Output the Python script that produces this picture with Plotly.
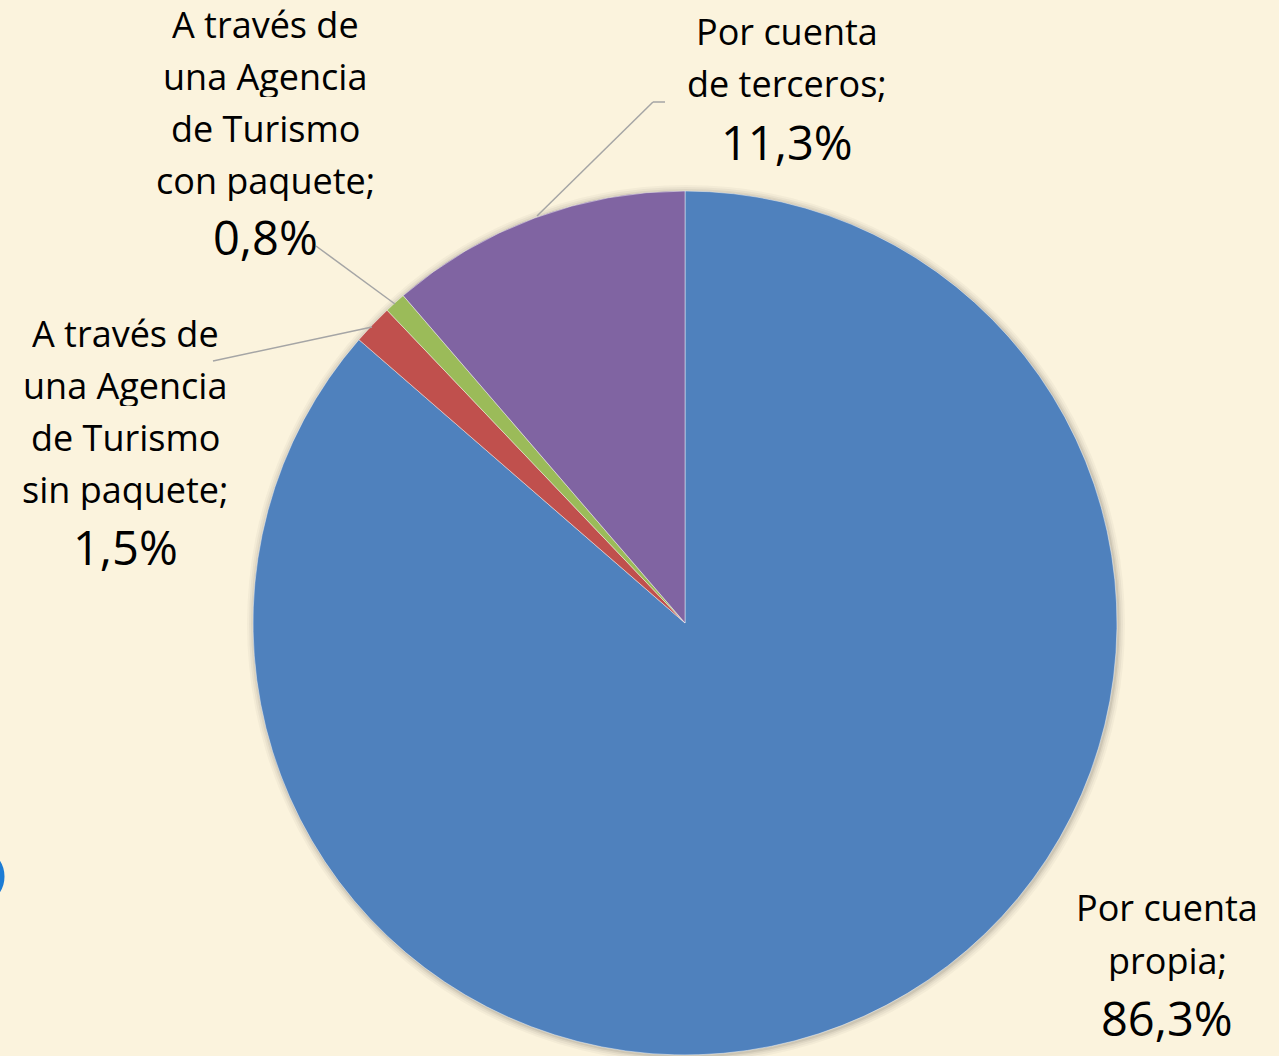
import plotly.graph_objects as go

# ---- data ----
categories = ["Por cuenta propia", "A través de una Agencia de Turismo sin paquete",
              "A través de una Agencia de Turismo con paquete", "Por cuenta de terceros"]
values = [86.3, 1.5, 0.8, 11.3]
value_labels = ["86,3%", "1,5%", "0,8%", "11,3%"]
label_lines = [["Por cuenta", "propia;"],
               ["A través de", "una Agencia", "de Turismo", "sin paquete;"],
               ["A través de", "una Agencia", "de Turismo", "con paquete;"],
               ["Por cuenta", "de terceros;"]]
colors = ["#4F81BD", "#C0504D", "#9BBB59", "#8064A2"]

W, H = 1279, 1056
BG = "#FBF3DD"
FONT = "Open Sans"

def px(x):
    return x / W

def py(y):
    return 1 - y / H

# pie geometry (pixels)
cx, cy, r = 685, 623, 432

fig = go.Figure(go.Pie(
    labels=categories, values=values, sort=False, direction="clockwise", rotation=0,
    marker=dict(colors=colors, line=dict(color="rgba(255,255,255,0.45)", width=1)),
    textinfo="none", hoverinfo="label+percent", showlegend=False,
    domain=dict(x=[px(cx - r), px(cx + r)], y=[py(cy + r), py(cy - r)]),
))

shapes = []
# soft shadow
for d, a in [(7, 0.03), (5, 0.04), (3, 0.05), (1.5, 0.07)]:
    shapes.append(dict(type="circle", xref="paper", yref="paper", layer="below",
                       x0=px(cx - r - d + 1), x1=px(cx + r + d + 1),
                       y0=py(cy + r + d + 1), y1=py(cy - r - d + 1),
                       fillcolor=f"rgba(0,0,0,{a})", line=dict(width=0)))

# leader lines
leaders = [
    [(316, 246), (395, 304)],
    [(213, 361), (372, 327)],
    [(665, 102), (653, 102), (537, 216)],
]
for pts in leaders:
    for (x0, y0), (x1, y1) in zip(pts[:-1], pts[1:]):
        shapes.append(dict(type="line", xref="paper", yref="paper",
                           x0=px(x0), y0=py(y0), x1=px(x1), y1=py(y1),
                           line=dict(color="#A5A5A5", width=1.5)))

# blue artefact at left edge
shapes.append(dict(type="circle", xref="paper", yref="paper",
                   x0=px(-60), x1=px(2), y0=py(905), y1=py(848),
                   line=dict(color="#1C7CD5", width=5), fillcolor="rgba(0,0,0,0)"))

annotations = []
# label layout: (center x, first line y, line step, gap to percent)
label_pos = [(1167, 907, 52.5, 58), (125, 333, 52, 58), (265, 24, 52, 57), (787, 31, 52, 59)]
for lines, val, (lx, ly, step, gap) in zip(label_lines, value_labels, label_pos):
    for i, t in enumerate(lines):
        annotations.append(dict(x=px(lx), y=py(ly + i * step), xref="paper", yref="paper",
                                text=t, showarrow=False, xanchor="center", yanchor="middle",
                                height=42, borderpad=0,
                                font=dict(family=FONT, size=36, color="#000000")))
    annotations.append(dict(x=px(lx), y=py(ly + (len(lines) - 1) * step + gap),
                            xref="paper", yref="paper", text=val, showarrow=False,
                            xanchor="center", yanchor="middle", height=52, borderpad=0,
                            font=dict(family=FONT, size=47, color="#000000")))

fig.update_layout(width=W, height=H, margin=dict(l=0, r=0, t=0, b=0),
                  paper_bgcolor=BG, plot_bgcolor=BG, shapes=shapes,
                  annotations=annotations)

fig.write_html("out.html", config={"displayModeBar": False},
               post_script="document.body.style.margin='0';document.body.style.padding='0';"
                           "document.body.style.background='#FBF3DD';")
